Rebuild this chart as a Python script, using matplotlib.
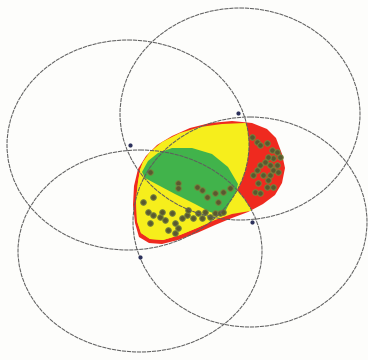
import matplotlib
matplotlib.use("Agg")
import matplotlib.pyplot as plt
from matplotlib.patches import Ellipse, Polygon

# Circles (ellipses in pixel coords): center x, center y, width, height
circle_cx = [128, 240, 140, 250]
circle_cy = [145, 114, 251, 222]
circle_w = [242, 240, 244, 234]
circle_h = [210, 212, 202, 210]

# Intersection markers
node_x = [130, 238, 252, 140]
node_y = [145, 113, 222, 257]

# Red blob outline
blob_x = [133, 134, 138, 146, 157, 172, 190, 210, 232, 252, 267, 276, 282, 285, 282, 275, 263,
          248, 232, 215, 197, 178, 162, 149, 139, 135]
blob_y = [205, 186, 169, 156, 145, 136, 128, 123, 121, 123, 129, 138, 154, 168, 183, 195, 204,
          212, 218, 225, 233, 240, 244, 243, 237, 223]

# Yellow zone outline (clipped to circles A and C)
yel_x = [143, 150, 162, 180, 200, 222, 245, 270, 300, 300, 250, 232, 215, 197, 180, 163, 150,
         141, 137, 136, 138, 140]
yel_y = [162, 152, 142, 133, 127, 124, 123, 125, 140, 200, 211, 214, 220, 228, 235, 240, 239,
         233, 221, 200, 182, 170]

# Green zone outline
grn_x = [142, 148, 158, 172, 192, 212, 228, 238, 236, 229, 223, 210, 195, 175, 158, 145]
grn_y = [172, 161, 153, 148, 148, 154, 167, 184, 192, 204, 216, 212, 204, 194, 185, 178]

# Scattered points
pts_x = [150, 178, 178, 197, 202, 207, 215, 223, 218, 230,
         143, 153, 148, 153, 150, 160, 162, 165, 172, 175, 178, 182, 187, 188, 193, 198, 202,
         205, 210, 215, 220, 223, 175, 168,
         252, 257, 260, 267, 272, 277, 280, 273, 268, 265, 270, 277, 260, 257, 253, 263, 270,
         268, 258, 267, 273, 255, 260, 273, 278]
pts_y = [172, 183, 188, 187, 190, 197, 193, 192, 202, 188,
         202, 197, 212, 215, 223, 217, 212, 220, 213, 223, 228, 218, 215, 210, 218, 213, 218,
         212, 217, 213, 213, 212, 233, 230,
         137, 142, 145, 143, 150, 152, 157, 158, 157, 162, 165, 165, 165, 170, 175, 175, 175,
         180, 183, 187, 187, 192, 193, 170, 172]

fig = plt.figure(figsize=(3.68, 3.60), dpi=100)
fig.patch.set_facecolor("#fdfdfb")
ax = fig.add_axes([0, 0, 1, 1])
ax.set_xlim(0, 368)
ax.set_ylim(360, 0)
ax.axis("off")

red = "#ef2a1f"
yellow = "#f6ee1c"
green = "#41b34b"

ax.add_patch(Polygon(list(zip(blob_x, blob_y)), closed=True, facecolor=red,
                     edgecolor="none", zorder=1))

for i in (0, 2):
    clip = Ellipse((circle_cx[i], circle_cy[i]), circle_w[i], circle_h[i],
                   transform=ax.transData)
    yp = Polygon(list(zip(yel_x, yel_y)), closed=True, facecolor=yellow,
                 edgecolor="none", zorder=2)
    ax.add_patch(yp)
    yp.set_clip_path(clip)

ax.add_patch(Polygon(list(zip(grn_x, grn_y)), closed=True, facecolor=green,
                     edgecolor="none", zorder=3))

ax.scatter(pts_x, pts_y, s=16, facecolor="#5a5830", edgecolor="#76843c",
           linewidth=0.7, zorder=4)

for cx, cy, w, h in zip(circle_cx, circle_cy, circle_w, circle_h):
    ax.add_patch(Ellipse((cx, cy), w, h, fill=False, edgecolor="#5e5e5e",
                         linewidth=0.75, linestyle=(0, (4, 0.8)), zorder=5))

ax.scatter(node_x, node_y, s=4, color="#2a2f5a", zorder=6)

fig.savefig("out.png", dpi=100, facecolor=fig.get_facecolor())
